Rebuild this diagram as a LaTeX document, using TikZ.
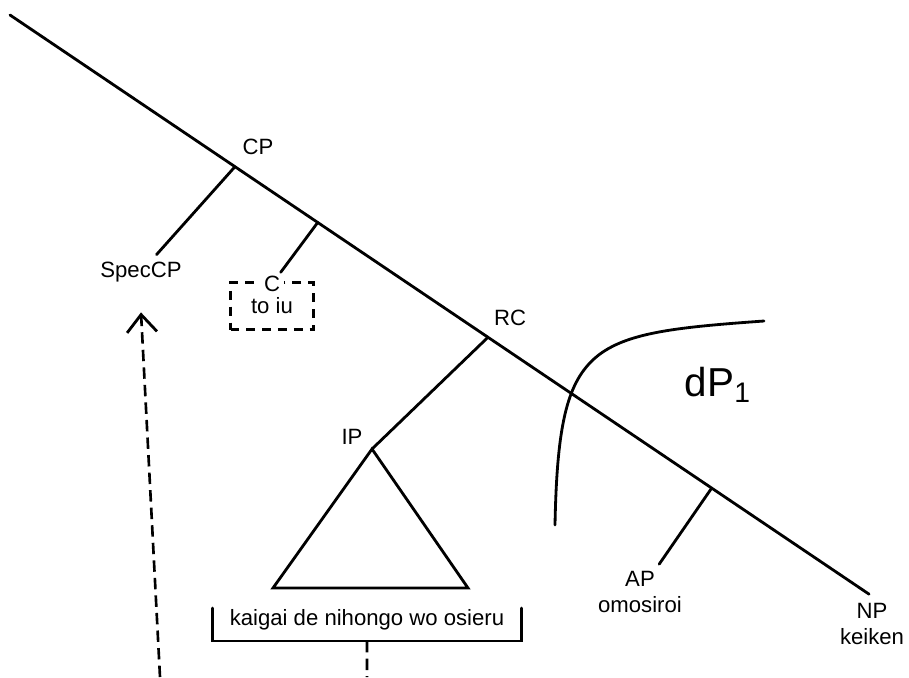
\documentclass[tikz,border=0pt]{standalone}
\usepackage{fontspec}
\setmainfont{Liberation Sans}
\usetikzlibrary{positioning, arrows.meta, calc}

\begin{document}
\begin{tikzpicture}[
  x=0.02cm, y=-0.02cm,
  font=\fontsize{12.6}{14.5}\selectfont,
  tree/.style={line width=1.6pt, line cap=round},
  move/.style={line width=1.5pt, dash pattern=on 6.5pt off 3.5pt},
  lbl/.style={align=center, inner sep=4pt},
  cbox/.style={draw, line width=1.3pt, dash pattern=on 5pt off 4pt,
    minimum width=1.66cm, minimum height=0.94cm, inner sep=0pt}
]
\useasboundingbox (0,0) rectangle (909,677);

% leaf and phrase labels
\node[lbl] (np) at (872,624) {NP\\keiken};
\node[lbl] (ap) at (640,592) {AP\\omosiroi};
\node[lbl] (speccp) at (141,272) {SpecCP};
\node[cbox] (toiu) at (272,306) {to iu};
\node[lbl, fill=white, inner sep=2pt] (cnode) at (272,284) {C};
\node (cp) at (258,147) {CP};
\node (rc) at (510,318) {RC};
\node (ip) at (352,437) {IP};
\node[font=\fontsize{23}{28}\selectfont] (dp) at (718,385) {dP\textsubscript{1}};
\node[inner sep=0pt, minimum width=6.16cm] (kaigai) at (367,620) {kaigai de nihongo wo osieru};

% spine, with the junctions on it
\coordinate (top) at (10,15);
\draw[tree, shorten >=2pt] (top) -- coordinate[pos=.261] (cpj) coordinate[pos=.357] (cj)
  coordinate[pos=.5545] (rcj) coordinate[pos=.814] (apj) (np.north);

% branches
\coordinate (apex) at (372,449);
\coordinate (tl) at (273,588);
\coordinate (tr) at (468,588);
\draw[tree] (cpj) -- (speccp);
\draw[tree] (cj) -- (cnode);
\draw[tree] (rcj) -- (apex);
\draw[tree] (apj) -- (ap);
\draw[tree, line join=miter] (apex) -- (tl) -- (tr) -- cycle;

% bracket under the triangle
\draw[tree] ([yshift=0.24cm]kaigai.west) -- ([yshift=-0.42cm]kaigai.west) coordinate (bl)
  -- ([yshift=-0.42cm]kaigai.east) coordinate (br) -- ([yshift=0.24cm]kaigai.east);

% dP1 boundary
\coordinate (dpa) at (555,525);
\coordinate (dpb) at (600,354);
\coordinate (dpc) at (764,321);
\draw[tree] (dpa) .. controls (557,420) and (568,378) .. (dpb)
  .. controls (630,332) and (680,327) .. (dpc);

% movement lines
\coordinate (bout) at (367,677);
\coordinate (mvfoot) at (160,677);
\draw[move] ($(bl)!.5!(br)$) -- (bout);
\draw[move, -{Straight Barb[length=10pt, width=17pt, line width=1.6pt]}] (mvfoot) -- ([yshift=-0.46cm]speccp.south);

\end{tikzpicture}
\end{document}
